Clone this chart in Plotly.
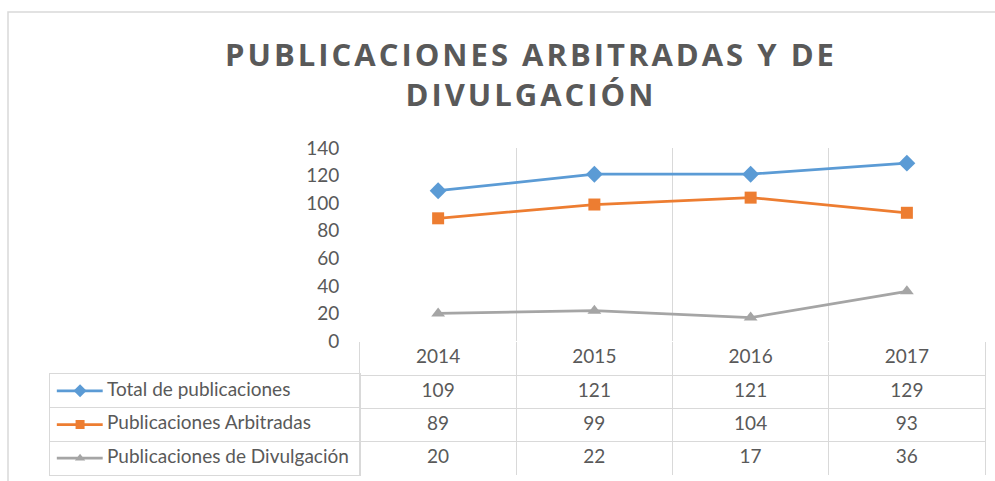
import plotly.graph_objects as go

# ---- data ----
years = ['2014', '2015', '2016', '2017']
series_names = ['Total de publicaciones', 'Publicaciones Arbitradas', 'Publicaciones de Divulgación']
total = [109, 121, 121, 129]
arbitradas = [89, 99, 104, 93]
divulgacion = [20, 22, 17, 36]
y_ticks = [0, 20, 40, 60, 80, 100, 120, 140]
title_lines = ['PUBLICACIONES ARBITRADAS Y DE', 'DIVULGACIÓN']
header_key = 'Año'

series_values = [total, arbitradas, divulgacion]
colors = ['#5B9BD5', '#ED7D31', '#A5A5A5']
symbols = ['diamond', 'square', 'triangle-up']
marker_sizes = [13, 12, 12]

W, H = 995, 481
def fx(p):
    return p / W
def fy(p):
    return 1 - p / H

GRID = '#D9D9D9'
TXT = '#595959'
FONT = 'Lato, Open Sans, sans-serif'
FS = 19

fig = go.Figure()

# main lines
for name, vals, c, s, ms in zip(series_names, series_values, colors, symbols, marker_sizes):
    fig.add_trace(go.Scatter(
        x=years, y=vals, mode='lines+markers', name=name,
        line=dict(color=c, width=2.75),
        marker=dict(symbol=s, size=ms, color=c),
        xaxis='x', yaxis='y', showlegend=False, hoverinfo='skip'))

# data table: header row (years) and value rows
fig.add_trace(go.Scatter(
    x=years, y=[header_key] * len(years), mode='text', text=years,
    textfont=dict(family=FONT, size=FS, color=TXT),
    xaxis='x2', yaxis='y2', showlegend=False, hoverinfo='skip'))
for name, vals in zip(series_names, series_values):
    fig.add_trace(go.Scatter(
        x=years, y=[name] * len(years), mode='text', text=[str(v) for v in vals],
        textfont=dict(family=FONT, size=FS, color=TXT),
        xaxis='x2', yaxis='y2', showlegend=False, hoverinfo='skip'))

# legend keys column
for name, c, s, ms in zip(series_names, colors, symbols, marker_sizes):
    fig.add_trace(go.Scatter(
        x=[0.022, 0.17], y=[name, name], mode='lines',
        line=dict(color=c, width=2.75),
        xaxis='x3', yaxis='y3', showlegend=False, hoverinfo='skip'))
    fig.add_trace(go.Scatter(
        x=[0.097], y=[name], mode='markers',
        marker=dict(symbol=s, size=ms - 3, color=c),
        xaxis='x3', yaxis='y3', showlegend=False, hoverinfo='skip'))
    fig.add_trace(go.Scatter(
        x=[0.184], y=[name], mode='text', text=[name], textposition='middle right',
        textfont=dict(family=FONT, size=FS, color=TXT),
        xaxis='x3', yaxis='y3', showlegend=False, hoverinfo='skip'))

title_html = '<br>'.join('<span style="letter-spacing:3px">%s</span>' % t for t in title_lines)

fig.update_layout(
    width=W, height=H,
    margin=dict(l=0, r=0, t=0, b=0, pad=0, autoexpand=False),
    paper_bgcolor='white', plot_bgcolor='rgba(0,0,0,0)',
    font=dict(family=FONT, size=FS, color=TXT),
    xaxis=dict(domain=[fx(360), fx(985)], type='category', categoryarray=years,
               range=[-0.5, 3.5], tickson='boundaries', showgrid=True, gridcolor=GRID,
               gridwidth=1, showticklabels=False, ticks='', zeroline=False,
               showline=False, anchor='y'),
    yaxis=dict(domain=[fy(341), fy(148)], range=[0, 140], tickvals=y_ticks,
               showgrid=False, zeroline=False, showline=False,
               ticks='outside', ticklen=16, tickcolor='rgba(0,0,0,0)',
               tickfont=dict(family=FONT, size=FS, color=TXT), anchor='x'),
    xaxis2=dict(domain=[fx(360), fx(985)], type='category', categoryarray=years,
                range=[-0.5, 3.5], tickson='boundaries', showgrid=True, gridcolor=GRID,
                showticklabels=False, ticks='', zeroline=False, showline=False, anchor='y2'),
    yaxis2=dict(domain=[fy(475), fy(342)], type='category',
                categoryarray=[header_key] + series_names, range=[3.5, -0.5],
                tickson='boundaries', showgrid=True, gridcolor=GRID,
                showticklabels=False, ticks='', zeroline=False, showline=True,
                linecolor=GRID, mirror=True, anchor='x2'),
    xaxis3=dict(domain=[fx(50), fx(360)], range=[0, 1], showgrid=False,
                showticklabels=False, ticks='', zeroline=False, showline=True,
                linecolor=GRID, mirror=True, anchor='y3'),
    yaxis3=dict(domain=[fy(475), fy(374)], type='category',
                categoryarray=series_names, range=[2.5, -0.5],
                tickson='boundaries', showgrid=True, gridcolor=GRID,
                showticklabels=False, ticks='', zeroline=False, showline=True,
                linecolor=GRID, mirror=True, anchor='x3'),
    annotations=[dict(
        text=title_html, xref='paper', yref='paper', x=fx(531), y=fy(74),
        xanchor='center', yanchor='middle', showarrow=False,
        font=dict(family='Open Sans, sans-serif', size=31, color=TXT, weight='bold'))],
    shapes=[dict(type='rect', xref='paper', yref='paper',
                 x0=fx(8), x1=1.05, y0=-0.05, y1=fy(12),
                 line=dict(color=GRID, width=1.5), fillcolor='rgba(0,0,0,0)', layer='below')],
)

fig.write_html('out.html', config={'displayModeBar': False},
               post_script="document.body.style.margin='0';document.body.style.overflow='hidden';")
